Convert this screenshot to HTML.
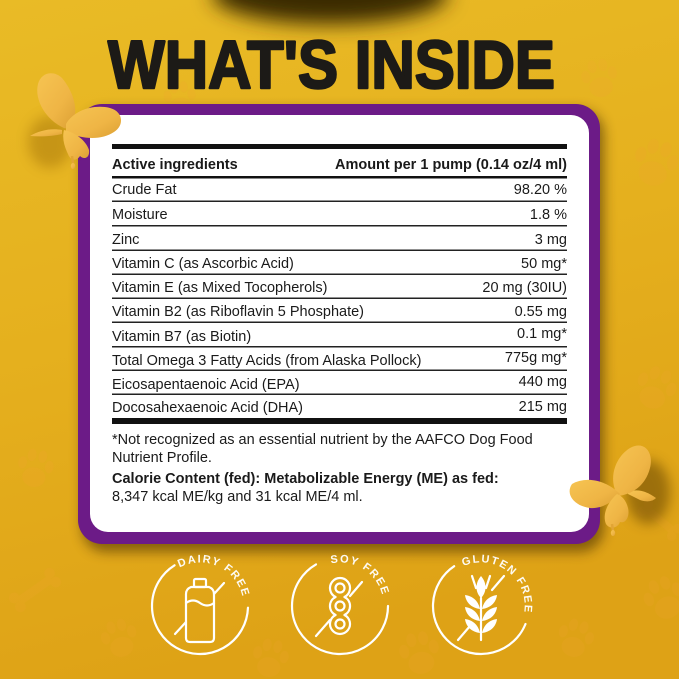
<!DOCTYPE html>
<html>
<head>
<meta charset="utf-8">
<style>
html,body{margin:0;padding:0;background:#e4ad1d;}
svg{display:block;}
</style>
</head>
<body>
<svg width="679" height="679" viewBox="0 0 679 679" xmlns="http://www.w3.org/2000/svg">
  <defs>
    <linearGradient id="bg" x1="0" y1="0" x2="0.25" y2="1">
      <stop offset="0" stop-color="#e9bb26"/>
      <stop offset="0.5" stop-color="#e5b01e"/>
      <stop offset="1" stop-color="#dea216"/>
    </linearGradient>
    <linearGradient id="bf" x1="0" y1="0" x2="1" y2="1">
      <stop offset="0" stop-color="#f6c452"/>
      <stop offset="0.6" stop-color="#efb545"/>
      <stop offset="1" stop-color="#dca034"/>
    </linearGradient>
    <filter id="blur10" x="-50%" y="-50%" width="200%" height="200%"><feGaussianBlur stdDeviation="10"/></filter>
    <filter id="blur6" x="-50%" y="-50%" width="200%" height="200%"><feGaussianBlur stdDeviation="6"/></filter>
    <g id="paw">
      <ellipse cx="0" cy="8" rx="13" ry="11"/>
      <ellipse cx="-15" cy="-6" rx="5" ry="7"/>
      <ellipse cx="-6" cy="-16" rx="5" ry="7"/>
      <ellipse cx="6" cy="-16" rx="5" ry="7"/>
      <ellipse cx="15" cy="-6" rx="5" ry="7"/>
    </g>
    <g id="bone">
      <rect x="-22" y="-5" width="44" height="10" rx="4"/>
      <circle cx="-24" cy="-6" r="6"/><circle cx="-24" cy="6" r="6"/>
      <circle cx="24" cy="-6" r="6"/><circle cx="24" cy="6" r="6"/>
    </g>
  </defs>

  <rect x="0" y="0" width="679" height="679" fill="url(#bg)"/>
  <ellipse cx="330" cy="-6" rx="118" ry="30" fill="#3a2a06" filter="url(#blur10)"/>

  <g fill="#f0a436" opacity="0.18">
    <use href="#paw" transform="translate(655,165) rotate(15) scale(1.1)"/>
    <use href="#paw" transform="translate(600,80) rotate(-10) scale(0.9)"/>
    <use href="#paw" transform="translate(655,390) rotate(20) scale(1)"/>
    <use href="#paw" transform="translate(120,640) rotate(-15) scale(0.9)"/>
    <use href="#paw" transform="translate(270,660) rotate(10) scale(0.9)"/>
    <use href="#paw" transform="translate(420,655) rotate(-10) scale(1)"/>
    <use href="#paw" transform="translate(575,640) rotate(15) scale(0.9)"/>
    <use href="#paw" transform="translate(665,600) rotate(-20) scale(1)"/>
    <use href="#paw" transform="translate(35,470) rotate(10) scale(0.9)"/>
    <use href="#paw" transform="translate(180,100) rotate(-5) scale(0.8)"/>
    <use href="#bone" transform="translate(35,590) rotate(-35) scale(0.9)"/>
    <use href="#bone" transform="translate(660,520) rotate(40) scale(0.8)"/>
  </g>

  <text x="331.5" y="88" text-anchor="middle" font-family="Liberation Sans, sans-serif" font-weight="bold" font-size="68" fill="#1c1a17" stroke="#1c1a17" stroke-width="2.5" stroke-linejoin="round" textLength="447" lengthAdjust="spacingAndGlyphs">WHAT'S INSIDE</text>

  <rect x="82" y="110" width="522" height="442" rx="24" fill="#3a2500" opacity="0.55" filter="url(#blur6)"/>
  <rect x="78" y="104" width="522" height="440" rx="24" fill="#6c1b87"/>
  <rect x="90" y="115" width="499" height="417" rx="18" fill="#ffffff"/>

  <g font-family="Liberation Sans, sans-serif" font-size="14.5" fill="#1a1a1a">
    <rect x="112" y="144" width="455" height="5" fill="#111"/>
    <text x="112" y="169" font-weight="bold">Active ingredients</text>
    <text x="567" y="169" font-weight="bold" text-anchor="end">Amount per 1 pump (0.14 oz/4 ml)</text>
    <rect x="112" y="176" width="455" height="2.5" fill="#111"/>

    <text x="112" y="194">Crude Fat</text>
    <text x="567" y="194" text-anchor="end">98.20 %</text>
    <rect x="112" y="200.5" width="455" height="1.5" fill="#222"/>

    <text x="112" y="219">Moisture</text>
    <text x="567" y="219" text-anchor="end">1.8 %</text>
    <rect x="112" y="225" width="455" height="1.5" fill="#222"/>

    <text x="112" y="244">Zinc</text>
    <text x="567" y="244" text-anchor="end">3 mg</text>
    <rect x="112" y="249.5" width="455" height="1.5" fill="#222"/>

    <text x="112" y="268">Vitamin C (as Ascorbic Acid)</text>
    <text x="567" y="268" text-anchor="end">50 mg*</text>
    <rect x="112" y="273.5" width="455" height="1.5" fill="#222"/>

    <text x="112" y="292">Vitamin E (as Mixed Tocopherols)</text>
    <text x="567" y="292" text-anchor="end">20 mg (30IU)</text>
    <rect x="112" y="297.5" width="455" height="1.5" fill="#222"/>

    <text x="112" y="316">Vitamin B2 (as Riboflavin 5 Phosphate)</text>
    <text x="567" y="316" text-anchor="end">0.55 mg</text>
    <rect x="112" y="321.5" width="455" height="1.5" fill="#222"/>

    <text x="112" y="341">Vitamin B7 (as Biotin)</text>
    <text x="567" y="338" text-anchor="end">0.1 mg*</text>
    <rect x="112" y="346" width="455" height="1.5" fill="#222"/>

    <text x="112" y="365">Total Omega 3 Fatty Acids (from Alaska Pollock)</text>
    <text x="567" y="362" text-anchor="end">775g mg*</text>
    <rect x="112" y="369.5" width="455" height="1.5" fill="#222"/>

    <text x="112" y="389">Eicosapentaenoic Acid (EPA)</text>
    <text x="567" y="386" text-anchor="end">440 mg</text>
    <rect x="112" y="393.5" width="455" height="1.5" fill="#222"/>

    <text x="112" y="412">Docosahexaenoic Acid (DHA)</text>
    <text x="567" y="411" text-anchor="end">215 mg</text>
    <rect x="112" y="418" width="455" height="6" fill="#111"/>

    <text x="112" y="444">*Not recognized as an essential nutrient by the AAFCO Dog Food</text>
    <text x="112" y="462">Nutrient Profile.</text>
    <text x="112" y="483" font-weight="bold">Calorie Content (fed): Metabolizable Energy (ME) as fed:</text>
    <text x="112" y="501">8,347 kcal ME/kg and 31 kcal ME/4 ml.</text>
  </g>

  <ellipse cx="50" cy="142" rx="22" ry="26" fill="#8a5a00" opacity="0.35" filter="url(#blur6)"/>
  <ellipse cx="648" cy="492" rx="22" ry="32" fill="#5a3a00" opacity="0.5" filter="url(#blur6)"/>

  <!-- butterfly 1 -->
  <g fill="url(#bf)">
    <path d="M62,130 C52,128 40,130 30,136 C42,137 54,136 62,134 Z"/>
    <path d="M64,128 C46,120 34,100 38,84 C41,72 54,70 62,78 C72,90 78,106 74,120 C72,126 68,129 64,128 Z"/>
    <path d="M66,124 C74,110 94,104 110,108 C124,112 124,126 114,132 C102,140 84,140 66,132 Z"/>
    <path d="M64,130 C74,132 86,140 89,150 C90,158 84,160 80,156 C76,162 70,160 68,154 C64,146 62,138 64,130 Z"/>
    <path d="M72,156 L73,164" stroke="#e2a535" stroke-width="2.5"/>
    <ellipse cx="73" cy="166" rx="2.2" ry="3"/>
  </g>

  <!-- butterfly 2 -->
  <g fill="url(#bf)">
    <path d="M628,492 C638,488 648,492 656,498 C652,502 646,502 640,500 C636,498 632,496 628,494 Z"/>
    <path d="M618,496 C608,480 614,458 630,448 C644,440 654,452 650,468 C646,484 634,494 618,496 Z"/>
    <path d="M620,494 C606,480 586,476 572,484 C565,494 574,506 590,508 C602,509 612,502 620,494 Z"/>
    <path d="M617,494 C608,502 602,514 606,524 C610,530 618,528 620,522 C626,524 630,516 628,508 C626,500 622,496 617,494 Z"/>
    <path d="M612,524 L613,531" stroke="#e2a535" stroke-width="2.5"/>
    <ellipse cx="613" cy="533" rx="2.2" ry="3"/>
  </g>

  <!-- icons -->
  <g fill="none" stroke="#ffffff" stroke-width="2.2" stroke-linecap="round" stroke-linejoin="round">
    <path d="M247.97,607.68 A48 48 0 1 1 174.56,565.30"/>
    <rect x="194" y="579" width="12" height="8" rx="1.5"/>
    <path d="M191,587 L209,587 Q214,589 214,594 L214,638 Q214,642 210,642 L190,642 Q186,642 186,638 L186,594 Q186,589 191,587 Z"/>
    <path d="M186,603 Q193,598 200,603 T214,603"/>
    <path d="M175,634 L186,622"/>
    <path d="M214,594 L224,583"/>
    <path d="M388,606 A48 48 0 1 1 316,564.43"/>
    <path d="M344.4,597 A10 10 0 1 0 335.6,597 A10 10 0 0 0 335.6,615 A10 10 0 1 0 344.4,615 A10 10 0 0 0 344.4,597 Z"/>
    <circle cx="340" cy="588" r="4.5"/>
    <circle cx="340" cy="606" r="4.5"/>
    <circle cx="340" cy="624" r="4.5"/>
    <path d="M316,636 L330,620"/>
    <path d="M350,596 L362,582"/>
    <path d="M525.5,623.98 A48 48 0 1 1 454.16,566.21"/>
    <path d="M481,598 L481,640"/>
    <path d="M472,576 L476,588 M490,576 L486,588"/>
    <path d="M458,640 L470,626"/>
    <path d="M492,590 L504,576"/>
  </g>
  <g fill="#ffffff">
    <path d="M481,576 C487,583 487,592 481,598 C475,592 475,583 481,576 Z"/>
    <path d="M480,609 C478,600 472,596 465,595 C466,603 472,608 480,609 Z"/>
    <path d="M482,609 C484,600 490,596 497,595 C496,603 490,608 482,609 Z"/>
    <path d="M480,621 C478,612 472,608 465,607 C466,615 472,620 480,621 Z"/>
    <path d="M482,621 C484,612 490,608 497,607 C496,615 490,620 482,621 Z"/>
    <path d="M480,633 C478,624 472,620 465,619 C466,627 472,632 480,633 Z"/>
    <path d="M482,633 C484,624 490,620 497,619 C496,627 490,632 482,633 Z"/>
  </g>

  <path id="tp1" d="M179.58,567.59 A43.5 43.5 0 1 1 220.42,644.41 A43.5 43.5 0 1 1 179.58,567.59" fill="none"/>
  <path id="tp2" d="M330.96,563.45 A43.5 43.5 0 1 1 349.04,648.55 A43.5 43.5 0 1 1 330.96,563.45" fill="none"/>
  <path id="tp3" d="M463.31,566.26 A43.5 43.5 0 1 1 498.69,645.74 A43.5 43.5 0 1 1 463.31,566.26" fill="none"/>
  <g font-family="Liberation Sans, sans-serif" font-weight="bold" font-size="11" fill="#ffffff" letter-spacing="1.5" opacity="0.95">
    <text><textPath href="#tp1">DAIRY FREE</textPath></text>
    <text><textPath href="#tp2">SOY FREE</textPath></text>
    <text><textPath href="#tp3">GLUTEN FREE</textPath></text>
  </g>
</svg>
</body>
</html>
